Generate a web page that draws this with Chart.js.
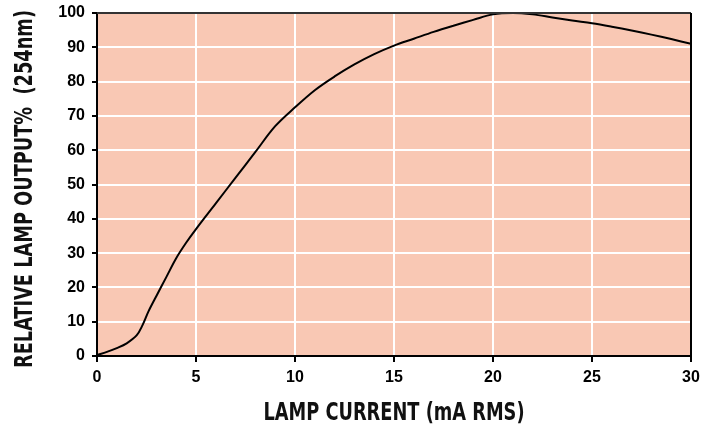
<!DOCTYPE html>
<html>
<head>
<meta charset="utf-8">
<script src="https://cdn.jsdelivr.net/npm/chart.js@4.4.0/dist/chart.umd.min.js"></script>
<style>
  html, body { margin: 0; padding: 0; background: #ffffff; }
  #wrap { width: 714px; height: 427px; }
</style>
</head>
<body>
<div id="wrap"><canvas id="lampChart" width="714" height="427"></canvas></div>
<script>

/* DATA */

const currentMa = [0, 0.5, 1, 1.5, 2, 2.3, 2.6, 3, 3.5, 4, 4.5, 5, 6, 7, 8, 9, 10, 11, 12, 13, 14, 15, 16, 17, 18, 19, 20, 21, 22, 23, 24, 25, 26, 27, 28, 29, 30];
const outputPct = [0.3, 1.2, 2.3, 3.7, 6, 9, 13, 17.5, 23, 28.5, 33, 37, 44.5, 52, 59.5, 67, 72.5, 77.5, 81.5, 85, 88, 90.5, 92.5, 94.5, 96.3, 98, 99.6, 100, 99.6, 98.7, 97.8, 97, 96, 94.9, 93.7, 92.4, 91];

const xTicks = [0, 5, 10, 15, 20, 25, 30];
const yTicks = [0, 10, 20, 30, 40, 50, 60, 70, 80, 90, 100];

const xTitle = "LAMP CURRENT (mA RMS)";
const yTitle = "RELATIVE LAMP OUTPUT%  (254nm)";

/* PLUGIN: plot background, frame, condensed axis titles */

const titleFont = "bold 24px 'DejaVu Sans Condensed', 'DejaVu Sans', sans-serif";

function squeezedText(ctx, text, width){
  const w = ctx.measureText(text).width;
  ctx.scale(width / w, 1);
  ctx.fillText(text, 0, 0);
}

const plotFrame = {
  id: "plotFrame",
  beforeDraw(chart){
    const a = chart.chartArea;
    const ctx = chart.ctx;
    ctx.save();
    ctx.fillStyle = "#F9C8B4";
    ctx.fillRect(a.left, a.top, a.right - a.left, a.bottom - a.top);
    ctx.restore();
  },
  afterDatasetsDraw(chart){
    const a = chart.chartArea;
    const ctx = chart.ctx;
    ctx.save();
    ctx.strokeStyle = "#333333";
    ctx.lineWidth = 2;
    ctx.beginPath();
    ctx.moveTo(a.left, a.top);
    ctx.lineTo(a.right, a.top);
    ctx.stroke();
    ctx.strokeStyle = "#000000";
    ctx.beginPath();
    ctx.moveTo(a.right, a.top);
    ctx.lineTo(a.right, a.bottom);
    ctx.stroke();
    ctx.restore();
  },
  afterDraw(chart){
    const ctx = chart.ctx;
    ctx.save();
    ctx.fillStyle = "#111111";
    ctx.font = titleFont;
    ctx.textAlign = "center";
    ctx.textBaseline = "alphabetic";

    ctx.save();
    ctx.translate(394, 420);
    squeezedText(ctx, xTitle, 261);
    ctx.restore();

    ctx.save();
    ctx.translate(32, 189);
    ctx.rotate(-Math.PI / 2);
    squeezedText(ctx, yTitle, 358);
    ctx.restore();

    ctx.restore();
  }
};

const tickFont = { family: "Liberation Sans, Arial, sans-serif", size: 16, weight: "bold" };

new Chart(
  document.getElementById("lampChart"),
  {
    type: "line",
    data: {
      datasets: [{
        data: currentMa.map((x, i) => ({ x: x, y: outputPct[i] })),
        borderColor: "#000000",
        borderWidth: 2,
        pointRadius: 0,
        fill: false,
        tension: 0.35
      }]
    },
    plugins: [plotFrame],
    options: {
      responsive: false,
      animation: false,
      layout: { padding: { left: 0, top: 13, right: 23, bottom: 0 } },
      plugins: {
        legend: { display: false },
        tooltip: { enabled: false }
      },
      scales: {
        x: {
          type: "linear",
          min: 0,
          max: 30,
          afterBuildTicks: s => { s.ticks = xTicks.map(v => ({ value: v })); },
          afterFit: s => { s.height = 71; s.paddingLeft = 0; s.paddingRight = 0; },
          ticks: { color: "#000", font: tickFont, padding: 6 },
          grid: { color: "#ffffff", lineWidth: 2, tickColor: "#000", tickLength: 6 },
          border: { color: "#000", width: 2 }
        },
        y: {
          min: 0,
          max: 100,
          afterBuildTicks: s => { s.ticks = yTicks.map(v => ({ value: v })); },
          afterFit: s => { s.width = 97; s.paddingTop = 0; s.paddingBottom = 0; },
          ticks: { color: "#000", font: tickFont, padding: 7 },
          grid: { color: "#ffffff", lineWidth: 2, tickColor: "#000", tickLength: 5 },
          border: { color: "#000", width: 2 }
        }
      }
    }
  }
);

</script>
</body>
</html>
